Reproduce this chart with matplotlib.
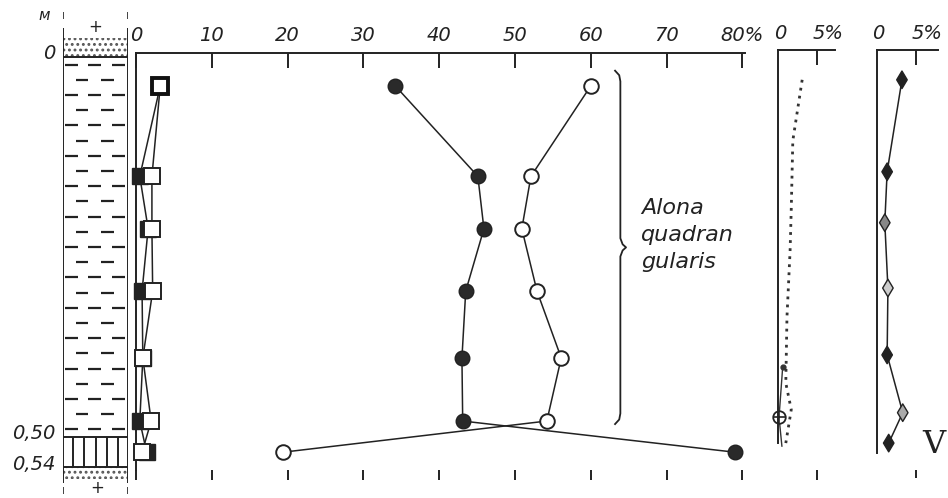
import numpy as np, matplotlib; matplotlib.use('Agg'); import matplotlib.pyplot as plt
from matplotlib.transforms import blended_transform_factory as blend

W, H = 948, 498
plt.rcParams['font.family'] = ['Liberation Sans Narrow', 'DejaVu Sans']
plt.rcParams['hatch.linewidth'] = 1.3
plt.rcParams['hatch.color'] = '#555555'

# sample depths (m) and percentages
depth = [0.038, 0.157, 0.226, 0.308, 0.396, 0.479, 0.52]
filled_circ = [34.2, 45.1, 45.9, 43.5, 43.0, 43.1, 79.0]
open_circ = [60.0, 52.1, 50.9, 52.9, 56.1, 54.2, 19.4]
filled_sq = [3.2, 0.5, 1.6, 0.8, 0.9, 0.5, 1.4]
open_sq = [3.2, 2.1, 2.1, 2.2, 0.9, 2.0, 0.8]
main_ticks = [0, 10, 20, 30, 40, 50, 60, 70, 80]
main_labels = ['0', '10', '20', '30', '40', '50', '60', '70', '80%']

dot_depth = [0.03, 0.11, 0.2, 0.255, 0.342, 0.429, 0.464, 0.508]
dot_val = [3.1, 1.9, 1.7, 1.55, 1.15, 1.0, 1.7, 1.0]
low_depth = [0.408, 0.474, 0.512]
low_val = [0.6, 0.13, 0.5]

dia_depth = [0.03, 0.151, 0.218, 0.304, 0.392, 0.468, 0.508]
dia_val = [3.2, 1.3, 1.0, 1.4, 1.3, 3.3, 1.5]
dia_face = ['#222222', '#222222', '#888888', '#cccccc', '#222222', '#aaaaaa', '#222222']

# lithology layers
layer_top = [-0.025, 0.0, 0.50, 0.54]
layer_bot = [0.0, 0.50, 0.54, 0.555]
layer_kind = ['sand', 'clay', 'peat', 'sand']
depth_marks = [0.0, 0.50, 0.54]
depth_marks_lbl = ['0', '0,50', '0,54']

def dpx(p):
    return (p - 57) / 760.0

def px_axes(x0, x1, y0, y1):
    a = fig.add_axes([x0 / W, 1 - y1 / H, (x1 - x0) / W, (y1 - y0) / H])
    a.set_ylim(dpx(y1), dpx(y0))
    a.patch.set_alpha(0)
    return a

fig = plt.figure(figsize=(W / 100, H / 100), dpi=100)
txt = dict(style='italic', color='#222222')
FS = 14

# ---- lithology column
axc = px_axes(63, 128, 5, 498)
axc.set_xlim(0, 1); axc.axis('off')
for t, b, k in zip(layer_top, layer_bot, layer_kind):
    if k == 'sand':
        axc.fill_between([0, 1], t, b, facecolor='white', hatch='...', lw=0)
    elif k == 'clay':
        rows = np.arange(t + 0.01, b, 0.02)
        for i, r in enumerate(rows):
            segs = [(0.03, 0.23), (0.38, 0.58), (0.75, 0.95)] if i % 2 == 0 else [(0.2, 0.38), (0.58, 0.78)]
            for s0, s1 in segs:
                axc.plot([s0, s1], [r, r], color='#222222', lw=1.6, solid_capstyle='butt')
    elif k == 'peat':
        axc.vlines(np.linspace(0.15, 0.85, 5), t, b, color='#222222', lw=1.4)
axc.hlines(depth_marks, 0, 1, color='#222222', lw=1.4)
axc.vlines([0, 1], dpx(28), dpx(483), color='#222222', lw=1.4)
axc.vlines([0, 1], dpx(12), dpx(19), color='#222222', lw=1.2)
axc.vlines([0, 1], dpx(487), dpx(494), color='#222222', lw=1.2)
axc.text(0.5, dpx(27), '+', ha='center', va='center', fontsize=12, color='#222222')
axc.text(0.52, dpx(488), '+', ha='center', va='center', fontsize=12, color='#222222')
axc.text(-0.29, dpx(16), 'м', ha='center', va='center', fontsize=11, **txt)
tr = blend(axc.transAxes, axc.transData)
for d, l in zip(depth_marks, depth_marks_lbl):
    axc.text(-0.12, d - 0.004, l, transform=tr, ha='right', va='center', fontsize=FS, **txt)

# ---- main panel
ax = px_axes(136, 745, 53, 470)
ax.set_xlim(0, (745 - 136) / 7.58)
for s in ['right', 'bottom']:
    ax.spines[s].set_visible(False)
for s in ['left', 'top']:
    ax.spines[s].set_linewidth(1.4); ax.spines[s].set_color('#222222')
ax.set_yticks([])
ax.set_xticks(main_ticks)
ax.set_xticklabels(main_labels)
ax.tick_params(axis='x', top=True, labeltop=True, bottom=True, labelbottom=False,
               direction='out', length=7, width=1.4, color='#222222', pad=-1, labelsize=FS)
for lab in ax.get_xticklabels():
    lab.set_style('italic'); lab.set_color('#222222')
# top ticks point down into the panel
for t in ax.xaxis.get_major_ticks():
    t.tick2line.set_marker(3); t.tick2line.set_markersize(11)

ax.plot(filled_sq, depth, '-', color='#222222', lw=1.1, marker='s', ms=11,
        mfc='#222222', mec='#222222', clip_on=False, zorder=3)
ax.plot(open_sq, depth, '-', color='#222222', lw=1.1, marker='s', ms=11,
        mfc='white', mec='#222222', mew=1.4, clip_on=False, zorder=4)
ax.plot(open_sq[:1], depth[:1], 's', ms=12, mfc='white', mec='#111111', mew=2.8, zorder=5)
ax.plot(filled_circ, depth, '-', color='#222222', lw=1.1, marker='o', ms=10.5,
        mfc='#2a2a2a', mec='#222222', clip_on=False, zorder=3)
ax.plot(open_circ, depth, '-', color='#222222', lw=1.1, marker='o', ms=10.5,
        mfc='white', mec='#222222', mew=1.4, clip_on=False, zorder=3)

# brace around the Alona quadrangularis samples
bx, bt, bb = 63.9, 0.018, 0.483
bm = (bt + bb) / 2
ys = [bt, bt + 0.006, bt + 0.014, bm - 0.012, bm - 0.004, bm, bm + 0.004, bm + 0.012, bb - 0.014, bb - 0.006, bb]
xs = [bx - 0.7, bx - 0.15, bx, bx, bx + 0.3, bx + 0.75, bx + 0.3, bx, bx, bx - 0.15, bx - 0.7]
ax.plot(xs, ys, color='#222222', lw=1.3)
ax.text(66.6, dpx(198), 'Alona\nquadran\ngularis', ha='left', va='top', fontsize=16,
        linespacing=1.45, **txt)

# ---- panel 1
ax1 = px_axes(778, 835, 50, 470)
ax1.set_xlim(0, 57 / 7.8)
for s in ['right', 'bottom']:
    ax1.spines[s].set_visible(False)
for s in ['left', 'top']:
    ax1.spines[s].set_linewidth(1.4); ax1.spines[s].set_color('#222222')
ax1.spines['left'].set_bounds(dpx(443), dpx(50))
ax1.set_yticks([]); ax1.set_xticks([5]); ax1.set_xticklabels([])
ax1.tick_params(axis='x', top=True, bottom=True, direction='out', length=7, width=1.4, color='#222222')
for t in ax1.xaxis.get_major_ticks():
    t.tick2line.set_marker(3); t.tick2line.set_markersize(11)
ax1.plot(dot_val, dot_depth, color='#333333', lw=2.0, ls=(0, (1, 1.9)), clip_on=False)
ax1.plot(low_val, low_depth, color='#333333', lw=1.0, clip_on=False)
ax1.plot(low_val[:1], low_depth[:1], 'o', ms=3.5, color='#333333', clip_on=False)
ax1.plot(low_val[1:2], low_depth[1:2], 'o', ms=9, mfc='white', mec='#222222', mew=1.3, clip_on=False)
ax1.plot(low_val[1:2], low_depth[1:2], '+', ms=8, color='#222222', mew=1.2, clip_on=False)
tr1 = blend(ax1.transData, ax1.transAxes)
ax1.text(0.3, 1.016, '0', transform=tr1, ha='center', va='bottom', fontsize=FS, **txt)
ax1.text(4.4, 1.016, '5%', transform=tr1, ha='left', va='bottom', fontsize=FS, **txt)

# ---- panel 2
ax2 = px_axes(877, 938, 50, 470)
ax2.set_xlim(0, 61 / 7.8)
for s in ['right', 'bottom']:
    ax2.spines[s].set_visible(False)
for s in ['left', 'top']:
    ax2.spines[s].set_linewidth(1.4); ax2.spines[s].set_color('#222222')
ax2.spines['left'].set_bounds(dpx(453), dpx(50))
ax2.set_yticks([]); ax2.set_xticks([5]); ax2.set_xticklabels([])
ax2.tick_params(axis='x', top=True, bottom=True, direction='out', length=6, width=1.4, color='#222222')
for t in ax2.xaxis.get_major_ticks():
    t.tick2line.set_marker(3); t.tick2line.set_markersize(11)
ax2.plot(dia_val, dia_depth, '-', color='#222222', lw=1.1, clip_on=False)
ax2.scatter(dia_val, dia_depth, marker='d', s=80, c=dia_face, edgecolors='#222222',
            linewidths=1.0, clip_on=False, zorder=3)
tr2 = blend(ax2.transData, ax2.transAxes)
ax2.text(0.1, 1.016, '0', transform=tr2, ha='center', va='bottom', fontsize=FS, **txt)
ax2.text(4.5, 1.016, '5%', transform=tr2, ha='left', va='bottom', fontsize=FS, **txt)

fig.text(922 / W, 1 - 453 / H, 'V', family='DejaVu Serif', fontsize=23, color='#222222',
         ha='left', va='baseline')

fig.savefig('out.png', dpi=100)
plt.close(fig)
